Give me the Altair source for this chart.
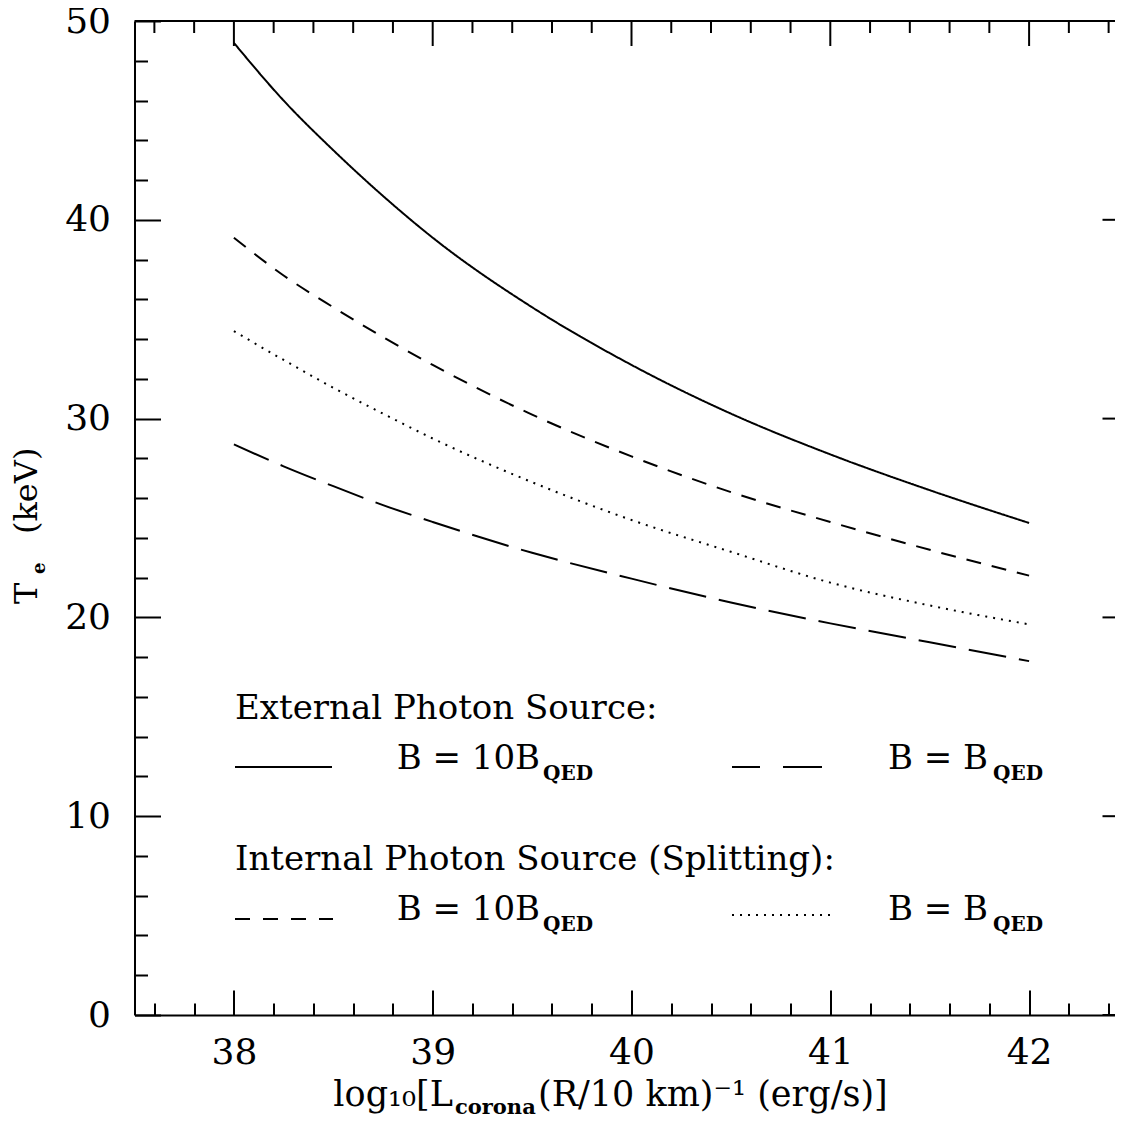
import altair as alt
import pandas as pd

# ---- data ----
L_vals = [38.0, 38.25, 38.5, 38.75, 39.0, 39.5, 40.0, 40.5, 41.0, 41.5, 42.0]
ext_10 = [48.9, 46.0, 43.5, 41.2, 39.1, 35.6, 32.7, 30.25, 28.2, 26.4, 24.75]
ext_1 = [28.7, 27.6, 26.6, 25.65, 24.8, 23.25, 21.95, 20.75, 19.7, 18.75, 17.8]
int_10 = [39.1, 37.2, 35.6, 34.1, 32.7, 30.2, 28.1, 26.3, 24.8, 23.4, 22.1]
int_1 = [34.4, 32.95, 31.55, 30.25, 29.0, 26.8, 24.9, 23.3, 21.75, 20.6, 19.65]
series_names = ["ext10", "ext1", "int10", "int1"]

x_major = [38, 39, 40, 41, 42]
x_minor = [37.6, 37.8, 38.2, 38.4, 38.6, 38.8, 39.2, 39.4, 39.6, 39.8,
           40.2, 40.4, 40.6, 40.8, 41.2, 41.4, 41.6, 41.8, 42.2, 42.4]
y_major = [0, 10, 20, 30, 40, 50]
y_minor = [2, 4, 6, 8, 12, 14, 16, 18, 22, 24, 26, 28, 32, 34, 36, 38,
           42, 44, 46, 48]

rows = []
for name, vals in zip(series_names, [ext_10, ext_1, int_10, int_1]):
    for l, t in zip(L_vals, vals):
        rows.append({"L": l, "T": t, "series": name})
df = pd.DataFrame(rows)
one = pd.DataFrame({"k": [0]})

W = 994        # full frame; its right strip falls outside the page
H = 994
MAJ_X, MIN_X = 25, 12
MAJ_Y, MIN_Y = 26, 13
FONT = "DejaVu Serif"

xs = alt.Scale(domain=[37.5, 42.5], nice=False, zero=False)
ys = alt.Scale(domain=[0, 50], nice=False, zero=False)

AX = dict(grid=False, title="", domainColor="black", tickColor="black",
          domainWidth=2, tickWidth=2, labelColor="black")

main_x_axis = alt.Axis(orient="bottom", values=x_major, ticks=False, tickSize=0,
                       domain=True, labelFont=FONT, labelFontSize=36,
                       labelPadding=20, **AX)
main_y_axis = alt.Axis(orient="left", values=y_major, ticks=False, tickSize=0,
                       domain=True, labelFont=FONT, labelFontSize=36,
                       labelPadding=24, **AX)

lines = alt.Chart(df).mark_line(strokeWidth=2, color="black", interpolate="monotone").encode(
    x=alt.X("L:Q", scale=xs, axis=main_x_axis),
    y=alt.Y("T:Q", scale=ys, axis=main_y_axis),
    strokeDash=alt.StrokeDash("series:N",
                              scale=alt.Scale(domain=series_names,
                                              range=[[1, 0], [38, 13], [15, 11], [2, 6]]),
                              legend=None),
    detail="series:N",
)


def tick_layer(xvals, xsize, yvals, ysize):
    # inward ticks on the bottom and left edges: axes pushed across the plot
    return alt.Chart(df).mark_line(strokeOpacity=0).encode(
        x=alt.X("L:Q", scale=xs,
                axis=alt.Axis(orient="top", offset=-H, values=xvals, tickSize=xsize,
                              labels=False, domain=False, **AX)),
        y=alt.Y("T:Q", scale=ys,
                axis=alt.Axis(orient="right", offset=-W, values=yvals, tickSize=ysize,
                              labels=False, domain=False, **AX)),
        detail="series:N",
    )


t1 = tick_layer(x_major, MAJ_X, y_major, MAJ_Y)
t2 = tick_layer(x_minor, MIN_X, y_minor, MIN_Y)


def top_ticks(vals, size):
    return alt.Chart(pd.DataFrame({"v": vals})).mark_rule(strokeWidth=2, color="black").encode(
        x=alt.X("v:Q", scale=xs, axis=None), y=alt.value(0), y2=alt.value(size))


def right_ticks(vals, size):
    return alt.Chart(pd.DataFrame({"v": vals})).mark_rule(strokeWidth=2, color="black").encode(
        y=alt.Y("v:Q", scale=ys, axis=None), x=alt.value(W - size), x2=alt.value(W))


top_frame = alt.Chart(one).mark_rule(strokeWidth=2, color="black").encode(
    x=alt.value(0), x2=alt.value(W), y=alt.value(0))

# the right-hand minor ticks lie wholly in the strip that is off the page
frame = [top_frame, top_ticks(x_major, MAJ_X), top_ticks(x_minor, MIN_X),
         right_ticks(y_major, MAJ_Y)]


def seg(x1, x2, y, dash):
    return alt.Chart(one).mark_rule(strokeWidth=2, color="black", strokeDash=dash).encode(
        x=alt.value(x1), x2=alt.value(x2), y=alt.value(y))


def txt(s, x, y, size=34, align="left", bold=False, angle=0):
    kw = dict(text=s, font=FONT, fontSize=size, align=align, baseline="alphabetic",
              color="black", fontWeight="bold" if bold else "normal")
    if angle:
        kw["angle"] = angle
    return alt.Chart(one).mark_text(**kw).encode(x=alt.value(x), y=alt.value(y))


legend = [
    txt("External Photon Source:", 100.5, 698),
    seg(100.5, 197.5, 746, [1, 0]),
    txt("B = 10B", 405.5, 748, align="right"),
    txt("QED", 408.5, 759, size=20, bold=True),
    seg(597.5, 687.5, 746, [28, 23, 40, 100]),
    txt("B = B", 853.5, 748, align="right"),
    txt("QED", 858.5, 759, size=20, bold=True),
    txt("Internal Photon Source (Splitting):", 100.5, 849),
    seg(100.5, 198.5, 898, [15, 13]),
    txt("B = 10B", 405.5, 899, align="right"),
    txt("QED", 408.5, 910, size=20, bold=True),
    seg(597.5, 695.5, 894, [2, 6]),
    txt("B = B", 853.5, 899, align="right"),
    txt("QED", 858.5, 910, size=20, bold=True),
]

titles = [
    txt("log\u2081\u2080[L", 318.5, 1085, size=35, align="right"),
    txt("corona", 320.5, 1093, size=21, bold=True),
    txt("(R/10 km)\u207b\u00b9 (erg/s)]", 403.5, 1085, size=35),
    txt("T", -97.5, 583, size=32, angle=270),
    txt("e", -89.5, 553, size=18, bold=True, angle=270),
    txt("(keV)", -97.5, 513, size=32, angle=270),
]

chart = alt.layer(lines, t1, t2, *frame, *legend, *titles).resolve_axis(
    x="independent", y="independent"
).properties(
    width=W, height=H,
    autosize=alt.AutoSizeParams(type="none"),
    padding={"left": 126.5, "top": 13, "right": -13.5, "bottom": 105},
    background="white",
).configure_view(stroke="transparent", strokeWidth=0)

chart.save("out.html", embed_options={"renderer": "svg", "actions": False})
